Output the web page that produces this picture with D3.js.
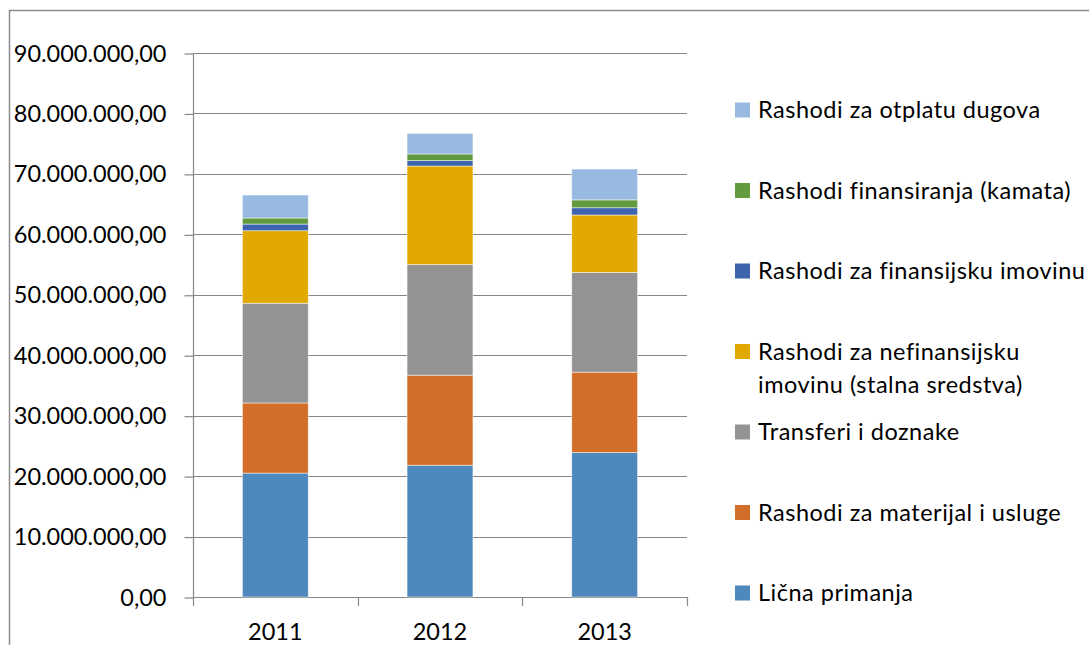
<!DOCTYPE html>
<html>
<head>
<meta charset="utf-8">
<script src="https://cdn.jsdelivr.net/npm/d3@7"></script>
<style>
  body { margin: 0; background: #fff; }
  text { font-family: Lato, "Open Sans", sans-serif; fill: #000; font-variant-ligatures: none; }
</style>
</head>
<body>
<div id="wrapper"></div>
<script>
// 1. Data
const years = ["2011", "2012", "2013"]
const seriesNames = [
  "Lična primanja",
  "Rashodi za materijal i usluge",
  "Transferi i doznake",
  "Rashodi za nefinansijsku imovinu (stalna sredstva)",
  "Rashodi za finansijsku imovinu",
  "Rashodi finansiranja (kamata)",
  "Rashodi za otplatu dugova",
]
const licnaPrimanja = [20500000, 21800000, 23900000]
const materijalUsluge = [11600000, 14900000, 13300000]
const transferi = [16500000, 18300000, 16500000]
const nefinansijskaImovina = [12000000, 16300000, 9500000]
const finansijskaImovina = [1100000, 900000, 1200000]
const kamata = [1000000, 1100000, 1300000]
const otplataDugova = [3800000, 3400000, 5100000]
const yTicks = [0, 10e6, 20e6, 30e6, 40e6, 50e6, 60e6, 70e6, 80e6, 90e6]
const colors = ["#4f88bc", "#d36e29", "#939393", "#e1a900", "#3d64ad", "#629a3f", "#98b9e0"]

const seriesValues = [
  licnaPrimanja, materijalUsluge, transferi, nefinansijskaImovina,
  finansijskaImovina, kamata, otplataDugova,
]
const table = years.map((year, i) => {
  const row = { year }
  seriesNames.forEach((name, s) => (row[name] = seriesValues[s][i]))
  return row
})

// 2. Dimensions
const width = 1089
const height = 645
const plot = { left: 193, right: 687, top: 53, bottom: 597 }
const fontSize = "23.5px"

// 3. Canvas
const svg = d3.select("#wrapper").append("svg")
  .attr("width", width)
  .attr("height", height)

svg.append("rect")
  .attr("x", 9.5).attr("y", 10.5)
  .attr("width", 1200).attr("height", 700)
  .attr("fill", "none")
  .attr("stroke", "#8c8c8c")
  .attr("stroke-width", 1.5)

// 4. Scales
const x = d3.scaleBand()
  .domain(years)
  .range([plot.left, plot.right])
  .paddingInner(0.6)
  .paddingOuter(0.3)
const y = d3.scaleLinear()
  .domain([0, 90e6])
  .range([plot.bottom, plot.top])

const formatVal = d => {
  const s = d3.format(",.2f")(d)
  return s.replace(/,/g, "#").replace(".", ",").replace(/#/g, ".")
}

// gridlines
svg.append("g")
  .selectAll("line")
  .data(yTicks)
  .join("line")
  .attr("x1", plot.left).attr("x2", plot.right)
  .attr("y1", d => Math.round(y(d)) + 0.5).attr("y2", d => Math.round(y(d)) + 0.5)
  .attr("stroke", "#878787")
  .attr("stroke-width", 1.2)

// y axis
const yAxis = svg.append("g")
  .attr("transform", `translate(${plot.left + 0.5},0.5)`)
  .call(d3.axisLeft(y).tickValues(yTicks).tickSize(9).tickPadding(18).tickFormat(formatVal))
yAxis.selectAll("text").style("font-size", fontSize).attr("fill", "#000")
yAxis.selectAll("line, path").attr("stroke", "#878787").attr("stroke-width", 1.2)
yAxis.select(".domain").attr("d", `M0,${plot.top}V${plot.bottom}`)

// x axis
const xTickPos = [plot.left, ...years.map((d, i) => plot.left + (i + 1) * x.step())]
const xAxis = svg.append("g")
xAxis.append("line")
  .attr("x1", plot.left).attr("x2", plot.right)
  .attr("y1", plot.bottom + 0.5).attr("y2", plot.bottom + 0.5)
  .attr("stroke", "#878787").attr("stroke-width", 1.2)
xAxis.selectAll(".tick")
  .data(xTickPos)
  .join("line")
  .attr("x1", d => Math.round(d) + 0.5).attr("x2", d => Math.round(d) + 0.5)
  .attr("y1", plot.bottom).attr("y2", plot.bottom + 9)
  .attr("stroke", "#878787").attr("stroke-width", 1.2)
xAxis.selectAll("text")
  .data(years)
  .join("text")
  .attr("x", d => x(d) + x.bandwidth() / 2)
  .attr("y", 640)
  .attr("text-anchor", "middle")
  .style("font-size", fontSize)
  .text(d => d)

// 5. Bars
const stacked = d3.stack().keys(seriesNames)(table)
svg.append("g")
  .selectAll("g")
  .data(stacked)
  .join("g")
  .attr("fill", (d, i) => colors[i])
  .selectAll("rect")
  .data(d => d)
  .join("rect")
  .attr("x", d => x(d.data.year))
  .attr("width", x.bandwidth())
  .attr("y", d => y(d[1]))
  .attr("height", d => y(d[0]) - y(d[1]))
  .attr("stroke", "#ffffff")
  .attr("stroke-opacity", 0.6)
  .attr("stroke-width", 0.8)

// 6. Legend
const legendItems = seriesNames.map((name, i) => ({ name, color: colors[i] })).reverse()
const legendLines = {
  "Rashodi za nefinansijsku imovinu (stalna sredstva)": ["Rashodi za nefinansijsku", "imovinu (stalna sredstva)"],
}
const legendY = d3.scalePoint()
  .domain(legendItems.map(d => d.name))
  .range([110, 593])
const legend = svg.append("g")
  .selectAll("g")
  .data(legendItems)
  .join("g")
  .attr("transform", d => `translate(735,${legendY(d.name)})`)
legend.append("rect")
  .attr("x", 0).attr("y", -7.5)
  .attr("width", 15).attr("height", 15)
  .attr("fill", d => d.color)
legend.append("text")
  .attr("x", 23)
  .attr("y", 8)
  .style("font-size", fontSize)
  .style("letter-spacing", "0.5px")
  .selectAll("tspan")
  .data(d => legendLines[d.name] || [d.name])
  .join("tspan")
  .attr("x", 23)
  .attr("dy", (d, i) => (i === 0 ? 0 : 33))
  .text(d => d)
</script>
</body>
</html>
